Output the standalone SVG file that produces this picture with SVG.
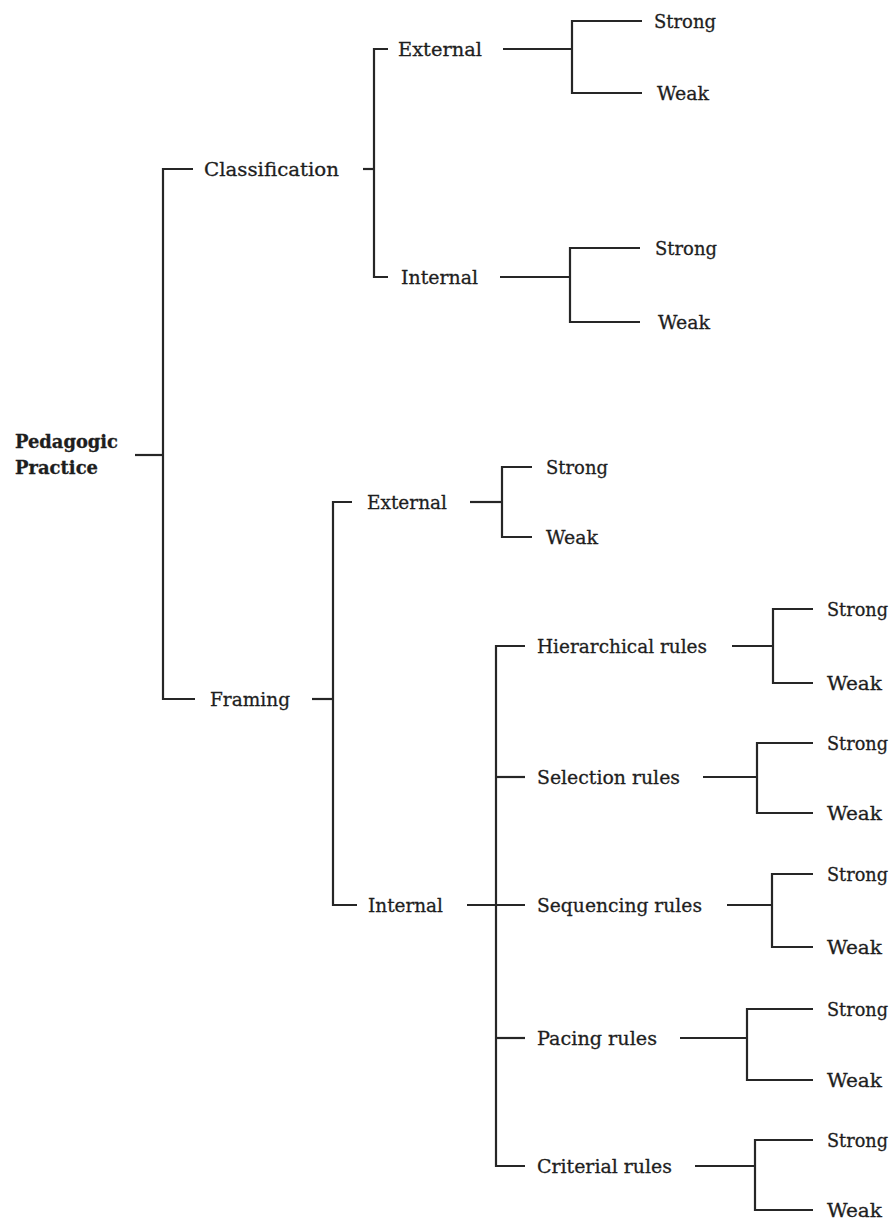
<svg xmlns="http://www.w3.org/2000/svg" width="892" height="1223" viewBox="0 0 892 1223">
  <style>
    text { font-family: "DejaVu Serif", "Liberation Serif", serif; font-size: 19px; fill: #1e1e1e; stroke: #1e1e1e; stroke-width: 0.3; }
    .root { font-weight: bold; font-size: 18px; }
    .link { fill: none; stroke: #262626; stroke-width: 2.2; }
  </style>
  <rect width="892" height="1223" fill="#fff"/>

  <!-- tree connectors -->
  <g id="connectors" class="link">
    <path d="M135,455 H163"/>
    <path d="M193,169 H163 V699 H195"/>
    <!-- classification -->
    <path d="M363,169 H374"/>
    <path d="M388,49 H374 V277 H388"/>
    <path d="M503,49 H572"/>
    <path d="M642,21 H572 V93 H642"/>
    <path d="M500,277 H570"/>
    <path d="M640,248 H570 V322 H640"/>
    <!-- framing -->
    <path d="M312,699 H333"/>
    <path d="M352,502 H333 V905 H357"/>
    <path d="M470,502 H502"/>
    <path d="M532,467 H502 V537 H532"/>
    <path d="M467,905 H525"/>
    <path d="M525,646 H496 V1166 H525"/>
    <path d="M496,777 H525"/>
    <path d="M496,1038 H525"/>
    <!-- rule types -->
    <path d="M732,646 H773"/>
    <path d="M813,609 H773 V683 H813"/>
    <path d="M703,777 H757"/>
    <path d="M813,743 H757 V813 H813"/>
    <path d="M727,905 H772"/>
    <path d="M813,874 H772 V947 H813"/>
    <path d="M680,1038 H747"/>
    <path d="M813,1009 H747 V1080 H813"/>
    <path d="M695,1166 H755"/>
    <path d="M813,1140 H755 V1210 H813"/>
  </g>

  <g id="pedagogic-practice">
    <text class="root" x="15" y="448" textLength="103" lengthAdjust="spacingAndGlyphs">Pedagogic</text>
    <text class="root" x="15" y="474" textLength="83" lengthAdjust="spacingAndGlyphs">Practice</text>
  </g>

  <g id="classification"><text x="204" y="176" textLength="135" lengthAdjust="spacingAndGlyphs">Classification</text></g>
  <g id="framing"><text x="210" y="706" textLength="80" lengthAdjust="spacingAndGlyphs">Framing</text></g>

  <g id="class-external"><text x="398" y="56" textLength="84" lengthAdjust="spacingAndGlyphs">External</text></g>
  <g id="class-external-strong"><text x="654" y="28" textLength="62" lengthAdjust="spacingAndGlyphs">Strong</text></g>
  <g id="class-external-weak"><text x="657" y="100" textLength="52" lengthAdjust="spacingAndGlyphs">Weak</text></g>

  <g id="class-internal"><text x="401" y="284" textLength="77" lengthAdjust="spacingAndGlyphs">Internal</text></g>
  <g id="class-internal-strong"><text x="655" y="255" textLength="62" lengthAdjust="spacingAndGlyphs">Strong</text></g>
  <g id="class-internal-weak"><text x="658" y="329" textLength="52" lengthAdjust="spacingAndGlyphs">Weak</text></g>

  <g id="frame-external"><text x="367" y="509" textLength="80" lengthAdjust="spacingAndGlyphs">External</text></g>
  <g id="frame-external-strong"><text x="546" y="474" textLength="62" lengthAdjust="spacingAndGlyphs">Strong</text></g>
  <g id="frame-external-weak"><text x="546" y="544" textLength="52" lengthAdjust="spacingAndGlyphs">Weak</text></g>

  <g id="frame-internal"><text x="368" y="912" textLength="75" lengthAdjust="spacingAndGlyphs">Internal</text></g>

  <g id="hierarchical-rules">
    <text x="537" y="653" textLength="170" lengthAdjust="spacingAndGlyphs">Hierarchical rules</text>
  </g>
  <g id="hierarchical-strong"><text x="827" y="616" textLength="61" lengthAdjust="spacingAndGlyphs">Strong</text></g>
  <g id="hierarchical-weak"><text x="827" y="690" textLength="55" lengthAdjust="spacingAndGlyphs">Weak</text></g>

  <g id="selection-rules">
    <text x="537" y="784" textLength="143" lengthAdjust="spacingAndGlyphs">Selection rules</text>
  </g>
  <g id="selection-strong"><text x="827" y="750" textLength="61" lengthAdjust="spacingAndGlyphs">Strong</text></g>
  <g id="selection-weak"><text x="827" y="820" textLength="55" lengthAdjust="spacingAndGlyphs">Weak</text></g>

  <g id="sequencing-rules">
    <text x="537" y="912" textLength="165" lengthAdjust="spacingAndGlyphs">Sequencing rules</text>
  </g>
  <g id="sequencing-strong"><text x="827" y="881" textLength="61" lengthAdjust="spacingAndGlyphs">Strong</text></g>
  <g id="sequencing-weak"><text x="827" y="954" textLength="55" lengthAdjust="spacingAndGlyphs">Weak</text></g>

  <g id="pacing-rules">
    <text x="537" y="1045" textLength="120" lengthAdjust="spacingAndGlyphs">Pacing rules</text>
  </g>
  <g id="pacing-strong"><text x="827" y="1016" textLength="61" lengthAdjust="spacingAndGlyphs">Strong</text></g>
  <g id="pacing-weak"><text x="827" y="1087" textLength="55" lengthAdjust="spacingAndGlyphs">Weak</text></g>

  <g id="criterial-rules">
    <text x="537" y="1173" textLength="135" lengthAdjust="spacingAndGlyphs">Criterial rules</text>
  </g>
  <g id="criterial-strong"><text x="827" y="1147" textLength="61" lengthAdjust="spacingAndGlyphs">Strong</text></g>
  <g id="criterial-weak"><text x="827" y="1217" textLength="55" lengthAdjust="spacingAndGlyphs">Weak</text></g>
</svg>
